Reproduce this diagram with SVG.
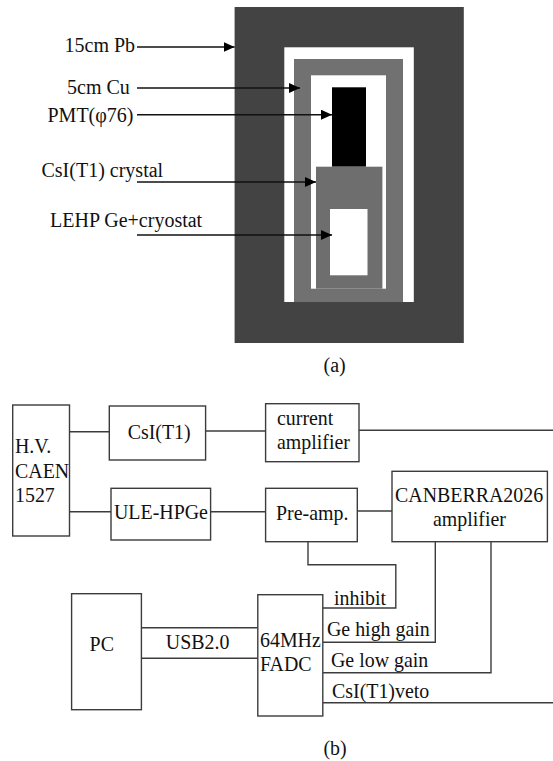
<svg xmlns="http://www.w3.org/2000/svg" width="553" height="761" viewBox="0 0 553 761">
<style>
text{font-family:"Liberation Serif","Times New Roman",serif;font-size:19.9px;fill:#111}
.big{font-size:20px}
.box{fill:#fff;stroke:#3c3c3c;stroke-width:1.4}
.ln{fill:none;stroke:#3c3c3c;stroke-width:1.4}
.ar{fill:none;stroke:#111;stroke-width:1.4;marker-end:url(#ah)}
</style>
<defs><marker id="ah" markerUnits="userSpaceOnUse" markerWidth="11" markerHeight="10" refX="11" refY="5" orient="auto"><path d="M0 0L11 5L0 10Z" fill="#000"/></marker></defs>
<rect width="553" height="761" fill="#fff"/>
<g id="shield">
<rect x="234.6" y="7" width="229.2" height="336" fill="#434343"/>
<rect x="284.3" y="47.3" width="129.5" height="254.7" fill="#fff"/>
<rect x="294" y="59" width="109" height="243" fill="#717171"/>
<rect x="311" y="75.3" width="75" height="213.4" fill="#fff"/>
<rect x="332" y="87.3" width="34" height="79.4" fill="#000"/>
<rect x="316" y="166.7" width="66.4" height="122" fill="#6e6e6e"/>
<rect x="330" y="209" width="37.5" height="66.3" fill="#fff"/>
</g>
<g id="arrows">
<path class="ar" d="M137 47H234.6"/>
<path class="ar" d="M137 88H300"/>
<path class="ar" d="M137 114.7H332"/>
<path class="ar" d="M137 182H316"/>
<path class="ar" d="M137 235H332"/>
</g>
<g id="labels-a">
<text class="big" x="64.5" y="51.7">15cm Pb</text>
<text class="big" x="67" y="94">5cm Cu</text>
<text class="big" x="47.5" y="121.7">PMT(φ76)</text>
<text class="big" x="41.5" y="176.7">CsI(T1) crystal</text>
<text class="big" x="50" y="227">LEHP Ge+cryostat</text>
<text class="big" x="323.5" y="371.5">(a)</text>
</g>
<g id="connectors">
<path class="ln" d="M69.5 431.7H109.3"/>
<path class="ln" d="M205.6 431H265.6"/>
<path class="ln" d="M359 430.3H553"/>
<path class="ln" d="M69.5 511.7H111"/>
<path class="ln" d="M210.6 511.7H265.6"/>
<path class="ln" d="M357.3 511H392"/>
<path class="ln" d="M308 541.7V564.7H395.8V608H322.8"/>
<path class="ln" d="M435.3 541.7V642.3H322.8"/>
<path class="ln" d="M491 541.7V672.7H322.8"/>
<path class="ln" d="M322.8 702.7H553"/>
<path class="ln" d="M141.4 627.7H257.8"/>
<path class="ln" d="M141.4 658.3H257.8"/>
</g>
<g id="hv"><rect class="box" x="12.7" y="405" width="56.8" height="131"/>
<text x="15" y="453.3">H.V.</text><text x="15" y="477.7">CAEN</text><text x="15" y="501.7">1527</text></g>
<g id="csi"><rect class="box" x="109.3" y="406" width="96.3" height="54"/><text x="127.7" y="439">CsI(T1)</text></g>
<g id="current-amp"><rect class="box" x="265.6" y="403.7" width="93.4" height="58"/><text x="277" y="425.3">current</text><text x="277" y="449">amplifier</text></g>
<g id="ule"><rect class="box" x="111" y="488.3" width="99.6" height="51.7"/><text x="114" y="518.7">ULE-HPGe</text></g>
<g id="preamp"><rect class="box" x="265.6" y="488.3" width="91.7" height="53.4"/><text x="276" y="520">Pre-amp.</text></g>
<g id="canberra"><rect class="box" x="392" y="471.3" width="155.4" height="70.4"/><text x="395" y="502.3">CANBERRA2026</text><text x="433" y="526">amplifier</text></g>
<g id="pc"><rect class="box" x="71.6" y="593.7" width="69.8" height="116"/><text x="89.6" y="650.7">PC</text></g>
<g id="fadc"><rect class="box" x="257.8" y="594.7" width="65" height="121.3"/><text x="260" y="646.7">64MHz</text><text x="260" y="670.7">FADC</text></g>
<g id="labels-b">
<text x="165.8" y="649.3">USB2.0</text>
<text x="334" y="605">inhibit</text>
<text x="327" y="636">Ge high gain</text>
<text x="331" y="667.3">Ge low gain</text>
<text x="332" y="697.7">CsI(T1)veto</text>
<text x="323.5" y="755">(b)</text>
</g>
</svg>
